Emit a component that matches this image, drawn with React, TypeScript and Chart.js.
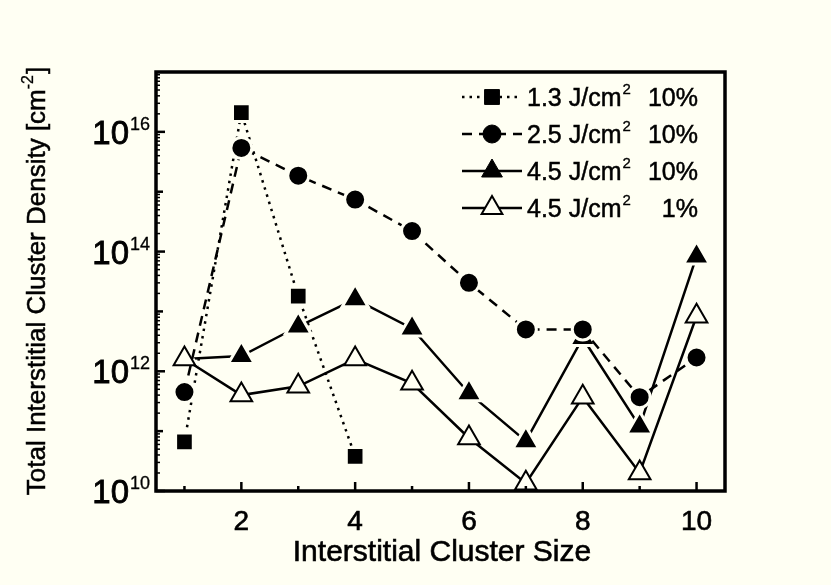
import React, { useEffect, useRef } from "react";
import { Chart, registerables } from "chart.js";

Chart.register(...registerables);

// ---------- data ----------
const clusterSizes = [1, 2, 3, 4, 5, 6, 7, 8, 9, 10];
const density13J10 = [6.6e10, 2.1e16, 1.8e13, 3.8e10];
const density25J10 = [4.5e11, 5.4e15, 1.85e15, 7.4e14, 2.2e14, 3.0e13, 5.0e12, 5.0e12, 3.7e11, 1.7e12];
const density45J10 = [1.6e12, 1.8e12, 5.6e12, 1.6e13, 5.2e12, 4.3e11, 6.8e10, 3.6e12, 1.2e11, 8.3e13];
const density45J1 = [1.6e12, 4.0e11, 5.6e11, 1.6e12, 6.3e11, 7.7e10, 1.35e10, 3.7e11, 2.0e10, 8.3e12];
const xTickValues = [2, 4, 6, 8, 10];
const yTickExponents = [10, 12, 14, 16];
const legendFluence = ["1.3 J/cm", "2.5 J/cm", "4.5 J/cm", "4.5 J/cm"];
const legendPercent = ["10%", "10%", "10%", "1%"];
const xTitle = "Interstitial Cluster Size";
const yTitleMain = "Total Interstitial Cluster Density [cm";
const yTitleSup = "-2";
const yTitleEnd = "]";

const BG = "#FFFFF3";
const FONT = '"Liberation Sans", Arial, Helvetica, sans-serif';

function pts(vals: number[]) {
  return vals.map((v, i) => ({ x: clusterSizes[i], y: v }));
}

function txt(ctx: CanvasRenderingContext2D, s: string, x: number, y: number, sw = 0.6) {
  ctx.fillText(s, x, y);
  if (sw > 0) {
    ctx.save();
    ctx.lineWidth = sw;
    ctx.strokeStyle = "#000";
    ctx.setLineDash([]);
    ctx.strokeText(s, x, y);
    ctx.restore();
  }
}

function drawMarker(ctx: CanvasRenderingContext2D, style: string, x: number, y: number, r: number, fill: string) {
  ctx.save();
  ctx.beginPath();
  if (style === "rect") {
    const s = Math.SQRT1_2 * r;
    ctx.rect(x - s, y - s, 2 * s, 2 * s);
  } else if (style === "circle") {
    ctx.arc(x, y, r, 0, Math.PI * 2);
  } else {
    ctx.moveTo(x, y - r);
    ctx.lineTo(x + 0.866 * r, y + r / 2);
    ctx.lineTo(x - 0.866 * r, y + r / 2);
    ctx.closePath();
  }
  ctx.fillStyle = fill;
  ctx.fill();
  ctx.lineWidth = fill === "#000" ? 1 : 2;
  ctx.strokeStyle = "#000";
  ctx.stroke();
  ctx.restore();
}

const customPlugin = {
  id: "customDraw",
  beforeDraw(chart: any) {
    const ctx = chart.ctx;
    ctx.save();
    ctx.fillStyle = BG;
    ctx.fillRect(0, 0, chart.width, chart.height);
    ctx.restore();
  },
  afterDraw(chart: any) {
    const ctx: CanvasRenderingContext2D = chart.ctx;
    const { left, right, top, bottom } = chart.chartArea;
    const xs = chart.scales.x;
    const ys = chart.scales.y;
    ctx.save();
    ctx.strokeStyle = "#000";
    ctx.fillStyle = "#000";
    // frame
    ctx.lineWidth = 3.5;
    ctx.strokeRect(left, top, right - left, bottom - top);
    // x ticks
    ctx.lineWidth = 2.5;
    for (let v = 1; v <= 10; v++) {
      const px = xs.getPixelForValue(v);
      const len = v % 2 === 0 ? 9 : 5;
      ctx.beginPath();
      ctx.moveTo(px, bottom);
      ctx.lineTo(px, bottom - len);
      ctx.stroke();
    }
    // y ticks
    for (let d = 10; d <= 16; d++) {
      for (let m = 1; m <= 9; m++) {
        const val = m * Math.pow(10, d);
        const py = ys.getPixelForValue(val);
        if (py < top + 1) continue;
        let len = 4;
        let lw = 1.5;
        if (m === 1) {
          len = d % 2 === 0 ? 9 : 7;
          lw = 2.5;
        }
        ctx.lineWidth = lw;
        ctx.beginPath();
        ctx.moveTo(left, py);
        ctx.lineTo(left + len, py);
        ctx.stroke();
      }
    }
    // x tick labels
    ctx.font = `28px ${FONT}`;
    ctx.textAlign = "center";
    ctx.textBaseline = "alphabetic";
    xTickValues.forEach((v) => {
      txt(ctx, String(v), xs.getPixelForValue(v), 530);
    });
    // y tick labels
    yTickExponents.forEach((e) => {
      const py = ys.getPixelForValue(Math.pow(10, e));
      ctx.font = `18px ${FONT}`;
      ctx.textAlign = "right";
      const supW = ctx.measureText(String(e)).width;
      txt(ctx, String(e), 150, py - 2, 0.3);
      ctx.font = `33px ${FONT}`;
      txt(ctx, "10", 150 - supW - 1, py + 12, 0.8);
    });
    // x title
    ctx.font = `30px ${FONT}`;
    ctx.textAlign = "center";
    txt(ctx, xTitle, 442, 561);
    // y title (rotated)
    ctx.save();
    ctx.translate(45, 281);
    ctx.rotate(-Math.PI / 2);
    ctx.font = `26px ${FONT}`;
    const w1 = ctx.measureText(yTitleMain).width;
    ctx.font = `16px ${FONT}`;
    const w2 = ctx.measureText(yTitleSup).width;
    ctx.font = `26px ${FONT}`;
    const w3 = ctx.measureText(yTitleEnd).width;
    const total = w1 + w2 + w3 + 1;
    let cx = -total / 2;
    ctx.textAlign = "left";
    txt(ctx, yTitleMain, cx, 0, 0.5);
    cx += w1;
    ctx.font = `16px ${FONT}`;
    txt(ctx, yTitleSup, cx, -12, 0.3);
    cx += w2 + 1;
    ctx.font = `26px ${FONT}`;
    txt(ctx, yTitleEnd, cx, 0, 0.5);
    ctx.restore();
    // legend
    const rowY = [97, 134, 171, 208];
    const styles = ["rect", "circle", "triangle", "triangle"];
    const radii = [10.5, 9, 12, 12];
    const fills = ["#000", "#000", "#000", BG];
    const dashes = [[2.5, 5], [10, 7], [], []];
    rowY.forEach((y, i) => {
      ctx.save();
      ctx.lineWidth = 2.5;
      ctx.setLineDash(dashes[i]);
      ctx.beginPath();
      ctx.moveTo(462, y);
      ctx.lineTo(522, y);
      ctx.stroke();
      ctx.restore();
      drawMarker(ctx, styles[i], 492, y, radii[i], fills[i]);
      ctx.textAlign = "left";
      ctx.font = `25px ${FONT}`;
      txt(ctx, legendFluence[i], 527, y + 9, 0.5);
      const fw = ctx.measureText(legendFluence[i]).width;
      ctx.font = `15px ${FONT}`;
      txt(ctx, "2", 527 + fw + 1, y - 3, 0.3);
      ctx.font = `25px ${FONT}`;
      ctx.textAlign = "right";
      txt(ctx, legendPercent[i], 698, y + 9, 0.5);
    });
    ctx.restore();
  },
};

export default function App() {
  const ref = useRef<HTMLCanvasElement | null>(null);
  useEffect(() => {
    if (!ref.current) return;
    const common = {
      borderColor: "#000",
      borderWidth: 2.5,
      showLine: true,
      tension: 0,
      clip: false as any,
    };
    const chart = new Chart(ref.current, {
      type: "line",
      data: {
        datasets: [
          {
            ...common,
            label: "1.3 J/cm² 10%",
            data: pts(density13J10),
            borderDash: [2.5, 5],
            pointStyle: "rect",
            pointRadius: 12.5,
            pointBackgroundColor: "#000",
            pointBorderColor: BG,
            pointBorderWidth: 3,
            order: 3,
          },
          {
            ...common,
            label: "2.5 J/cm² 10%",
            data: pts(density25J10),
            borderDash: [10, 7],
            pointStyle: "circle",
            pointRadius: 10.5,
            pointBackgroundColor: "#000",
            pointBorderColor: BG,
            pointBorderWidth: 3,
            order: 1,
          },
          {
            ...common,
            label: "4.5 J/cm² 10%",
            data: pts(density45J10),
            pointStyle: "triangle",
            pointRadius: 15,
            pointBackgroundColor: "#000",
            pointBorderColor: BG,
            pointBorderWidth: 3,
            order: 2,
          },
          {
            ...common,
            label: "4.5 J/cm² 1%",
            data: pts(density45J1),
            pointStyle: "triangle",
            pointRadius: 12.5,
            pointBackgroundColor: BG,
            pointBorderColor: "#000",
            pointBorderWidth: 2,
            order: 0,
          },
        ],
      },
      options: {
        responsive: false,
        animation: false,
        devicePixelRatio: 1,
        layout: { padding: { left: 156, top: 72, right: 106, bottom: 94 } },
        plugins: { legend: { display: false }, tooltip: { enabled: false } },
        scales: {
          x: { type: "linear", min: 0.5, max: 10.5, display: false },
          y: { type: "logarithmic", min: 1e10, max: 1e17, display: false },
        },
      },
      plugins: [customPlugin],
    });
    return () => chart.destroy();
  }, []);
  return (
    <div style={{ position: "absolute", left: 0, top: 0, width: 831, height: 585, background: BG }}>
      <canvas ref={ref} width={831} height={585} style={{ width: 831, height: 585, display: "block" }} />
    </div>
  );
}
